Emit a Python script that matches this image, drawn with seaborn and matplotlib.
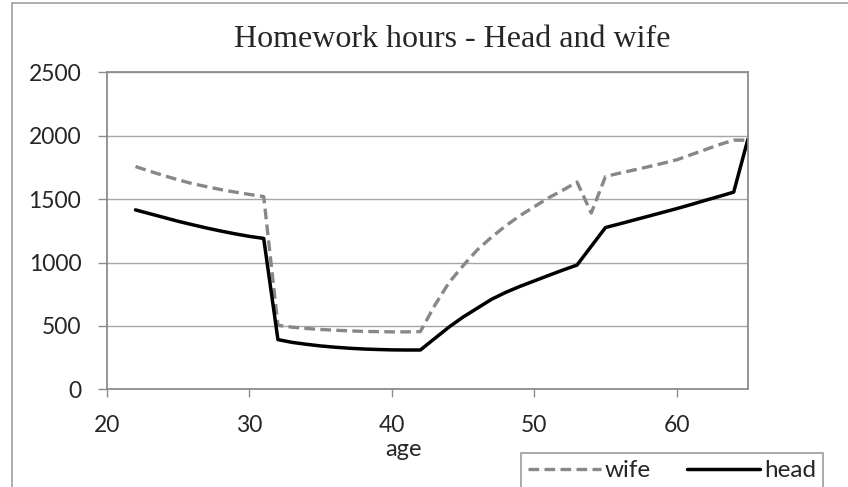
import pandas as pd
import matplotlib.pyplot as plt
import matplotlib.patches as patches
import seaborn as sns

# values
ages = list(range(22, 66))
wife = [1757, 1720, 1685, 1652, 1622, 1598, 1575, 1555, 1537, 1520,
        505, 490, 480, 472, 466, 461, 457, 455, 453, 453, 455,
        660, 840, 975, 1100, 1200, 1290, 1370, 1440, 1510, 1570, 1635,
        1390, 1679, 1705, 1730, 1755, 1782, 1810, 1850, 1890, 1930, 1965, 1965]
head = [1415, 1385, 1355, 1325, 1298, 1272, 1248, 1226, 1206, 1190,
        392, 370, 355, 342, 332, 324, 318, 314, 311, 310, 310,
        400, 490, 570, 640, 710, 765, 812, 855, 898, 940, 980,
        1128, 1276, 1305, 1335, 1365, 1395, 1425, 1457, 1490, 1522, 1555, 1973]
y_ticks = [0, 500, 1000, 1500, 2000, 2500]
x_ticks = [20, 30, 40, 50, 60]

data = pd.DataFrame({'age': ages, 'wife': wife, 'head': head})

sns.set_style('white')
plt.rcParams['font.family'] = ['Lato', 'DejaVu Sans']

axis_grey = '#8c8c8c'

fig = plt.figure(figsize=(8.48, 4.87), dpi=100)
ax = fig.add_axes([0.1262, 0.2006, 0.7558, 0.6509])

sns.lineplot(x='age', y='wife', data=data, ax=ax, color='#878787',
             linewidth=2.4, label='wife')
ax.lines[-1].set_dashes([3.2, 1.6])
sns.lineplot(x='age', y='head', data=data, ax=ax, color='black',
             linewidth=2.5, label='head')

ax.set_xlim(20, 65)
ax.set_ylim(0, 2500)
ax.set_xticks(x_ticks)
ax.set_yticks(y_ticks)
ax.grid(axis='y', color='#a6a6a6', linewidth=1.0)
ax.set_axisbelow(True)
for s in ax.spines.values():
    s.set_visible(True)
    s.set_color(axis_grey)
    s.set_linewidth(1.3)
ax.tick_params(axis='y', length=6.5, width=1.0, color=axis_grey, pad=12,
               labelsize=16.5, left=True, direction='out')
ax.tick_params(axis='x', length=5.5, width=1.0, color=axis_grey, pad=13,
               labelsize=16.5, bottom=True, direction='out')

ax.set_ylabel('')
ax.set_xlabel('age', fontsize=17)
ax.xaxis.set_label_coords(0.462, -0.19)
ax.xaxis.label.set_va('center')

# title centred over x = 452 px, baseline near y = 47 px
ax.set_title('Homework hours - Head and wife', family='Liberation Serif',
             fontsize=23, pad=0, x=0.538, y=1.08)

leg = ax.legend(loc='upper left', bbox_to_anchor=(521 / 848, 34 / 487),
                bbox_transform=fig.transFigure, ncol=2, frameon=True,
                fancybox=False, edgecolor=axis_grey, fontsize=17.5,
                handlelength=3.0, handletextpad=0.15, columnspacing=1.5,
                borderpad=0.3, borderaxespad=0)
leg.get_frame().set_linewidth(1.3)

# outer chart frame, cropped by the image edge on the right and bottom
fig.patches.append(patches.Rectangle((12 / 848, -0.1), 2.0, 1.1 - 3 / 487,
                                     transform=fig.transFigure, fill=False,
                                     edgecolor='#a0a0a0', linewidth=1.2))

plt.savefig('out.png', dpi=100)
